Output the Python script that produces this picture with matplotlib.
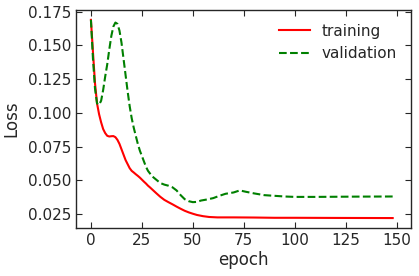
import matplotlib
matplotlib.use("Agg")
import matplotlib.pyplot as plt

train_epochs = [0, 1, 2, 3, 4, 5, 6, 7, 8, 9, 10, 11, 12, 13, 14, 15, 16, 17,
                18, 19, 20, 21, 22, 23, 24, 25, 26, 27, 28, 29, 30, 32, 34, 36,
                38, 40, 42, 44, 46, 48, 50, 52, 55, 58, 62, 70, 80, 90, 100,
                120, 148]
train_loss = [0.169, 0.145, 0.122, 0.107, 0.099, 0.093, 0.088, 0.085, 0.083,
              0.0825, 0.0827, 0.0828, 0.082, 0.080, 0.077, 0.073, 0.069, 0.065,
              0.062, 0.059, 0.057, 0.0558, 0.0545, 0.0533, 0.052, 0.0505,
              0.049, 0.0476, 0.046, 0.0447, 0.0433, 0.0405, 0.0378, 0.0355,
              0.0338, 0.0322, 0.0305, 0.0289, 0.0274, 0.0262, 0.0252, 0.0243,
              0.0234, 0.0228, 0.0225, 0.0225, 0.0224, 0.0222, 0.0222, 0.0221,
              0.022]

val_epochs = [0, 1, 2, 3, 4, 5, 6, 7, 8, 9, 10, 11, 12, 13, 14, 15, 16, 17,
              18, 19, 20, 21, 22, 23, 24, 25, 26, 27, 28, 29, 30, 32, 34, 36,
              38, 40, 42, 44, 46, 48, 50, 52, 54, 57, 60, 63, 66, 70, 73, 76,
              80, 85, 90, 95, 100, 110, 120, 130, 148]
val_loss = [0.169, 0.140, 0.118, 0.107, 0.106, 0.109, 0.117, 0.127, 0.136,
            0.147, 0.157, 0.164, 0.167, 0.166, 0.161, 0.152, 0.140, 0.128,
            0.116, 0.105, 0.096, 0.089, 0.083, 0.077, 0.072, 0.068, 0.064,
            0.060, 0.057, 0.055, 0.053, 0.0505, 0.048, 0.0468, 0.046, 0.0448,
            0.0425, 0.039, 0.036, 0.0345, 0.0338, 0.034, 0.035, 0.0358,
            0.0368, 0.0385, 0.040, 0.041, 0.0425, 0.0415, 0.0403, 0.039,
            0.0385, 0.038, 0.0377, 0.0377, 0.0378, 0.0379, 0.038]

txt = "#262626"
plt.rcParams["font.family"] = "DejaVu Sans"

fig = plt.figure(figsize=(4.19, 2.76), dpi=100)
ax = fig.add_axes([0.181, 0.174, 0.8, 0.79])

ax.plot(train_epochs, train_loss, color="red", lw=1.5, label="training")
ax.plot(val_epochs, val_loss, color="green", lw=1.5, ls="--", label="validation")

ax.set_xlim(-7.4, 157)
ax.set_xticks([0, 25, 50, 75, 100, 125, 150])
ax.set_yticks([0.025, 0.050, 0.075, 0.100, 0.125, 0.150, 0.175])
ax.tick_params(direction="in", top=True, right=True, length=4, width=0.8,
               labelsize=11, labelcolor=txt, color=txt)
for s in ax.spines.values():
    s.set_color(txt)
    s.set_linewidth(1.0)

ax.set_xlabel("epoch", fontsize=12, color=txt, labelpad=2)
ax.set_ylabel("Loss", fontsize=12, color=txt, labelpad=5)
leg = ax.legend(loc="upper right", frameon=False, fontsize=11)
for t in leg.get_texts():
    t.set_color(txt)

fig.savefig("out.png", dpi=100)
